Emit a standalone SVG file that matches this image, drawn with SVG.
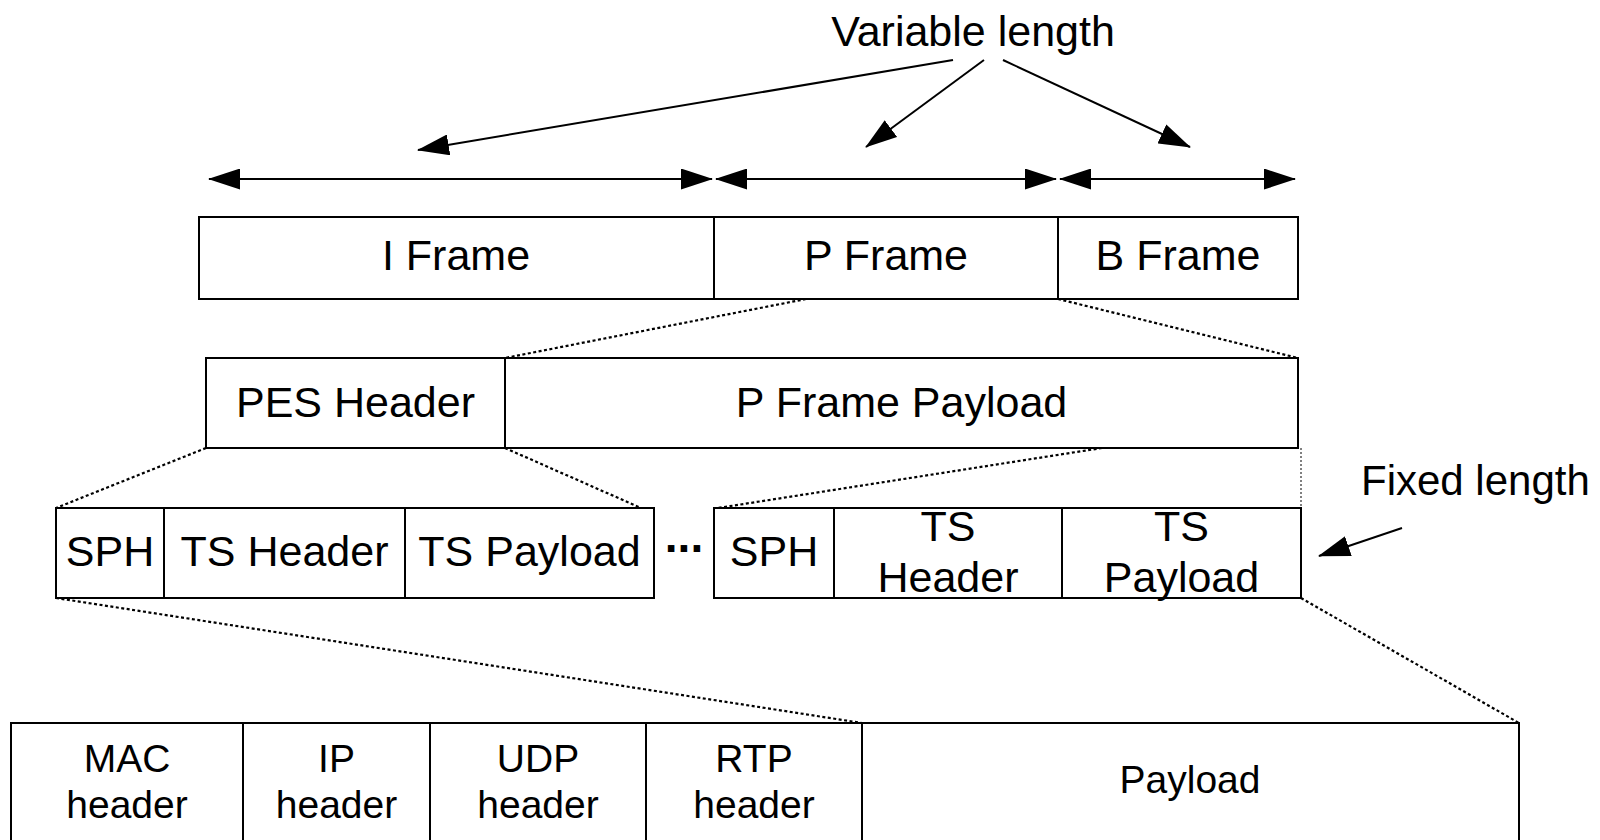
<svg xmlns="http://www.w3.org/2000/svg" width="1600" height="840" viewBox="0 0 1600 840">
<style>
.box{fill:none;stroke:#000;stroke-width:2}
.div{stroke:#000;stroke-width:2}
.dot{stroke:#000;stroke-width:2.2;stroke-dasharray:3 2.5;fill:none}
.thin{stroke:#000;stroke-width:1;stroke-dasharray:2 2;fill:none}
.arr{stroke:#000;stroke-width:2;fill:none}
text{font-family:"Liberation Sans",Arial,sans-serif;font-size:43px;fill:#000;text-anchor:middle}
.sm{font-size:39px}
</style>
<defs>
<marker id="ah" viewBox="0 0 32 21" markerWidth="32" markerHeight="21" refX="31" refY="10.5" orient="auto-start-reverse" markerUnits="userSpaceOnUse">
<path d="M0,0 L32,10.5 L0,21 z" fill="#000"/>
</marker>
</defs>
<rect width="1600" height="840" fill="#fff"/>
<g id="connectors">
<line class="arr" x1="209" y1="179" x2="712" y2="179" marker-start="url(#ah)" marker-end="url(#ah)"/>
<line class="arr" x1="716" y1="179" x2="1056" y2="179" marker-start="url(#ah)" marker-end="url(#ah)"/>
<line class="arr" x1="1060" y1="179" x2="1295" y2="179" marker-start="url(#ah)" marker-end="url(#ah)"/>
<line class="arr" x1="953" y1="60" x2="418" y2="150" marker-end="url(#ah)"/>
<line class="arr" x1="984" y1="60" x2="866" y2="147" marker-end="url(#ah)"/>
<line class="arr" x1="1003" y1="60" x2="1190" y2="147" marker-end="url(#ah)"/>
<line class="arr" x1="1402" y1="528" x2="1319" y2="556" marker-end="url(#ah)"/>
<line class="dot" x1="806" y1="299" x2="505" y2="358"/>
<line class="dot" x1="1058" y1="299" x2="1298" y2="358"/>
<line class="dot" x1="206" y1="448" x2="56" y2="508"/>
<line class="dot" x1="505" y1="448" x2="641" y2="508"/>
<line class="dot" x1="1102" y1="448" x2="718" y2="508"/>
<line class="thin" x1="1301" y1="448" x2="1301" y2="508"/>
<line class="dot" x1="56" y1="598" x2="862" y2="723"/>
<line class="dot" x1="1301" y1="598" x2="1519" y2="723"/>
</g>
<g id="variable-length"><text x="973" y="46">Variable length</text></g>
<g id="frames">
<rect class="box" x="199" y="217" width="1099" height="82"/>
<line class="div" x1="714" y1="217" x2="714" y2="299"/>
<line class="div" x1="1058" y1="217" x2="1058" y2="299"/>
<text x="456" y="270">I Frame</text>
<text x="886" y="270">P Frame</text>
<text x="1178" y="270">B Frame</text>
</g>
<g id="pes">
<rect class="box" x="206" y="358" width="1092" height="90"/>
<line class="div" x1="505" y1="358" x2="505" y2="448"/>
<text x="355.5" y="417">PES Header</text>
<text x="901.5" y="417">P Frame Payload</text>
</g>
<g id="ts-left">
<rect class="box" x="56" y="508" width="598" height="90"/>
<line class="div" x1="164" y1="508" x2="164" y2="598"/>
<line class="div" x1="405" y1="508" x2="405" y2="598"/>
<text x="110" y="566">SPH</text>
<text x="284.5" y="566">TS Header</text>
<text x="529.5" y="566">TS Payload</text>
</g>
<g id="ellipsis"><text x="684" y="552" style="font-weight:bold;font-size:46px">...</text></g>
<g id="ts-right">
<rect class="box" x="714" y="508" width="587" height="90"/>
<line class="div" x1="834" y1="508" x2="834" y2="598"/>
<line class="div" x1="1062" y1="508" x2="1062" y2="598"/>
<text x="774" y="566">SPH</text>
<text x="948" y="541">TS</text>
<text x="948" y="592">Header</text>
<text x="1181.5" y="541">TS</text>
<text x="1181.5" y="592">Payload</text>
</g>
<g id="fixed-length"><text x="1361" y="495" style="text-anchor:start;font-size:42px">Fixed length</text></g>
<g id="packet">
<rect class="box" x="11" y="723" width="1508" height="140"/>
<line class="div" x1="243" y1="723" x2="243" y2="840"/>
<line class="div" x1="430" y1="723" x2="430" y2="840"/>
<line class="div" x1="646" y1="723" x2="646" y2="840"/>
<line class="div" x1="862" y1="723" x2="862" y2="840"/>
<text class="sm" x="127" y="772">MAC</text>
<text class="sm" x="127" y="818">header</text>
<text class="sm" x="336.5" y="772">IP</text>
<text class="sm" x="336.5" y="818">header</text>
<text class="sm" x="538" y="772">UDP</text>
<text class="sm" x="538" y="818">header</text>
<text class="sm" x="754" y="772">RTP</text>
<text class="sm" x="754" y="818">header</text>
<text class="sm" x="1190" y="793">Payload</text>
</g>
</svg>
